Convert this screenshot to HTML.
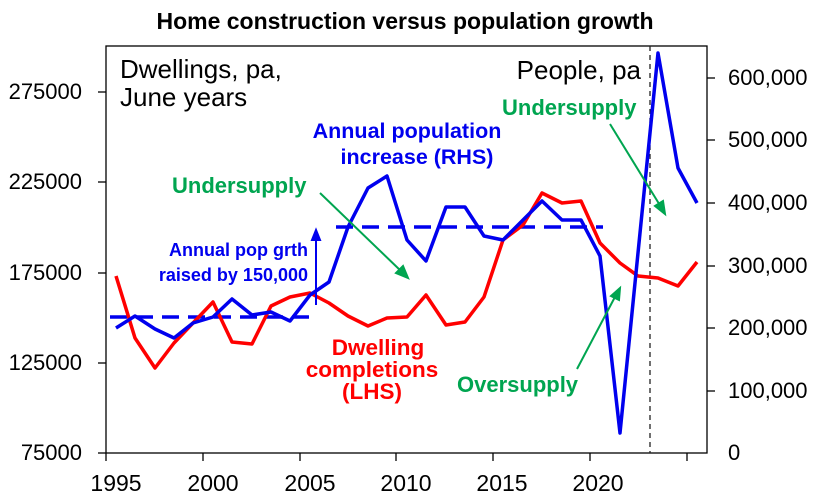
<!DOCTYPE html>
<html><head><meta charset="utf-8"><style>
body{margin:0;background:#fff}
svg{display:block;font-family:"Liberation Sans",Arial,sans-serif}
</style></head><body>
<svg width="821" height="500" viewBox="0 0 821 500" xmlns="http://www.w3.org/2000/svg">
<rect width="821" height="500" fill="#fff"/>
<text x="405" y="29" font-size="23" font-weight="bold" text-anchor="middle">Home construction versus population growth</text>
<rect x="106" y="46" width="601" height="407" fill="none" stroke="#000" stroke-width="1.3"/>
<g stroke="#000" stroke-width="1.3">
<line x1="98" y1="92" x2="106" y2="92"/><line x1="98" y1="182" x2="106" y2="182"/><line x1="98" y1="273" x2="106" y2="273"/><line x1="98" y1="363" x2="106" y2="363"/><line x1="98" y1="453" x2="106" y2="453"/>
<line x1="707" y1="78" x2="715" y2="78"/><line x1="707" y1="140" x2="715" y2="140"/><line x1="707" y1="203" x2="715" y2="203"/><line x1="707" y1="266" x2="715" y2="266"/><line x1="707" y1="328" x2="715" y2="328"/><line x1="707" y1="391" x2="715" y2="391"/>
<line x1="106" y1="453" x2="106" y2="461"/><line x1="203" y1="453" x2="203" y2="461"/><line x1="300" y1="453" x2="300" y2="461"/><line x1="396" y1="453" x2="396" y2="461"/><line x1="493" y1="453" x2="493" y2="461"/><line x1="590" y1="453" x2="590" y2="461"/><line x1="687" y1="453" x2="687" y2="461"/>
</g>
<g font-size="22" text-anchor="end">
<text x="82" y="99">275000</text><text x="82" y="189">225000</text><text x="82" y="280">175000</text><text x="82" y="370">125000</text><text x="82" y="460">75000</text>
</g>
<g font-size="22">
<text x="728" y="85">600,000</text><text x="728" y="147">500,000</text><text x="728" y="210">400,000</text><text x="728" y="273">300,000</text><text x="728" y="335">200,000</text><text x="728" y="398">100,000</text><text x="728" y="460">0</text>
</g>
<g font-size="23" text-anchor="middle">
<text x="116" y="491">1995</text><text x="213" y="491">2000</text><text x="310" y="491">2005</text><text x="406" y="491">2010</text><text x="502" y="491">2015</text><text x="598" y="491">2020</text>
</g>
<line x1="650" y1="46" x2="650" y2="453" stroke="#222" stroke-width="1.3" stroke-dasharray="5,4"/>
<g stroke="#0000ee" stroke-width="3.5" stroke-dasharray="17,9" fill="none">
<line x1="110" y1="317" x2="316" y2="317"/>
<line x1="336" y1="227" x2="603" y2="227"/>
</g>
<polyline fill="none" stroke="#ff0000" stroke-width="3.5" stroke-linejoin="round" points="116,276 135,338 155,368 174,343 193,323 213,302 232,342 252,344 271,306 290,297 310,293 329,303 348,316 368,326 387,318 407,317 426,295 446,325 465,322 484,297 503,240 523,225 542,193 562,203 581,201 600,243 620,263 638,276 658,278 678,286 697,262"/>
<polyline fill="none" stroke="#0000ee" stroke-width="3.5" stroke-linejoin="round" points="116,328 135,316 155,329 174,338 193,323 213,317 232,299 252,315 271,312 290,321 310,295 329,282 348,227 368,188 387,176 407,240 426,261 446,207 465,207 484,236 503,240 523,220 542,201 562,220 581,220 600,256 620,433 658,53 678,168 697,203"/>
<g stroke="#00a550" stroke-width="2" fill="#00a550">
<line x1="320" y1="193" x2="402" y2="272"/><polygon points="408,278 396,273 403,266"/>
<line x1="610" y1="124" x2="661" y2="207"/><polygon points="665,214 655,206 663,201"/>
<line x1="577" y1="369" x2="616" y2="295"/><polygon points="620,288 619,300 611,296"/>
</g>
<g stroke="#0000ee" stroke-width="2" fill="#0000ee">
<line x1="316" y1="305" x2="316" y2="238"/><polygon points="316,230 312,240 320,240"/>
</g>
<g font-size="26">
<text x="120" y="78">Dwellings, pa,</text><text x="120" y="106">June years</text>
<text x="641" y="79" text-anchor="end">People, pa</text>
</g>
<g font-size="21.5" font-weight="bold" fill="#0000ee" text-anchor="middle">
<text x="407" y="138">Annual population</text><text x="417" y="164">increase (RHS)</text>
</g>
<g font-size="22" font-weight="bold" fill="#00a550">
<text x="172" y="193">Undersupply</text><text x="502" y="115">Undersupply</text><text x="457" y="392">Oversupply</text>
</g>
<g font-size="18" font-weight="bold" fill="#0000ee" text-anchor="end">
<text x="308" y="256">Annual pop grth</text><text x="308" y="281">raised by 150,000</text>
</g>
<g font-size="22.5" font-weight="bold" fill="#ff0000" text-anchor="middle">
<text x="378" y="355">Dwelling</text><text x="372" y="377">completions</text><text x="372" y="399">(LHS)</text>
</g>
</svg>
</body></html>
